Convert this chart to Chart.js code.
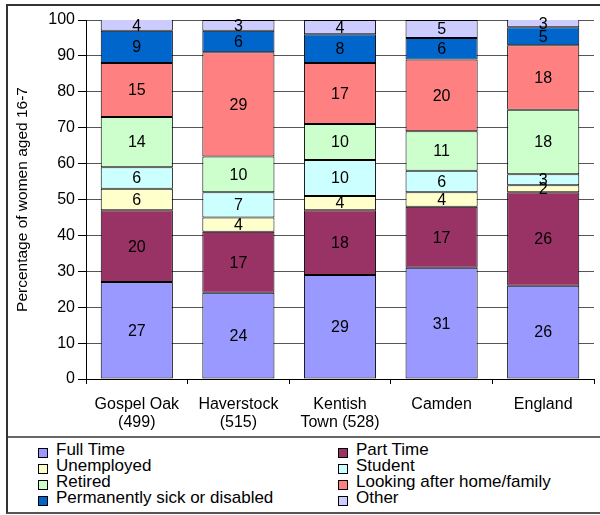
<!DOCTYPE html>
<html>
<head>
<meta charset="utf-8">
<script src="https://cdn.jsdelivr.net/npm/chart.js@4.4.1/dist/chart.umd.min.js"></script>
<style>
  html, body { margin: 0; padding: 0; background: #fff; width: 600px; height: 515px; overflow: hidden;
    font-family: "Liberation Sans", Arial, sans-serif; }
  #wrap { position: absolute; left: 0; top: 0; width: 600px; height: 436px; }
  #frame { position: absolute; left: 6px; top: 4px; width: 600px; height: 506px;
    border-top: 2px solid #333; border-left: 2px solid #333; border-bottom: 2px solid #555; pointer-events: none; }
  #sep { position: absolute; left: 6px; top: 436px; width: 600px; height: 0; border-top: 2px solid #666; }
  .box { position: absolute; width: 8px; height: 8px; border: 1px solid #000; }
  .lbl { position: absolute; font-size: 17px; line-height: 16px; height: 16px; white-space: nowrap; color: #000; }
</style>
</head>
<body>
<div id="wrap"><canvas id="chart" width="600" height="436"></canvas></div>
<div id="sep"></div>
<div id="legend"></div>
<div id="frame"></div>
<script>
// Categories (areas, with sample sizes)
const categories = [["Gospel Oak", "(499)"], ["Haverstock", "(515)"], ["Kentish", "Town (528)"], "Camden", "England"];

// Economic activity of women aged 16-74, percent
const fullTime      = [27, 24, 29, 31, 26];
const partTime      = [20, 17, 18, 17, 26];
const unemployed    = [6, 4, 4, 4, 2];
const student       = [6, 7, 10, 6, 3];
const retired       = [14, 10, 10, 11, 18];
const lookingAfter  = [15, 29, 17, 20, 18];
const sickDisabled  = [9, 6, 8, 6, 5];
const other         = [4, 3, 4, 5, 3];

const seriesNames = ["Full Time", "Part Time", "Unemployed", "Student", "Retired",
  "Looking after home/family", "Permanently sick or disabled", "Other"];
const seriesValues = [fullTime, partTime, unemployed, student, retired, lookingAfter, sickDisabled, other];
const seriesColors = ["#9999FF", "#993366", "#FFFFCC", "#CCFFFF", "#CCFFCC", "#FF8080", "#0066CC", "#CCCCFF"];

const yTicks = { min: 0, max: 100, step: 10 };

const FONT = "'Liberation Sans', Arial, sans-serif";

// Writes each segment's value in the middle of its visible part
const segmentLabels = {
  id: "segmentLabels",
  afterDatasetsDraw(chart) {
    const ctx = chart.ctx;
    const area = chart.chartArea;
    ctx.save();
    ctx.font = "16px " + FONT;
    ctx.fillStyle = "#000";
    ctx.textAlign = "center";
    ctx.textBaseline = "middle";
    chart.data.datasets.forEach((ds, i) => {
      const meta = chart.getDatasetMeta(i);
      meta.data.forEach((bar, j) => {
        const top = Math.max(bar.y, area.top);
        const y = (top + bar.base) / 2;
        ctx.fillText(String(ds.data[j]), bar.x, y + 1);
      });
    });
    ctx.restore();
  }
};

const datasets = seriesNames.map((name, i) => ({
  label: name,
  data: seriesValues[i],
  backgroundColor: seriesColors[i],
  borderColor: "#000",
  borderWidth: 1,
  borderSkipped: false,
  barPercentage: 0.71,
  categoryPercentage: 1.0,
  clip: 0
}));

new Chart(document.getElementById("chart"), {
  type: "bar",
  data: { labels: categories, datasets },
  options: {
    responsive: false,
    animation: false,
    layout: { padding: { top: 20, right: 6, left: 0, bottom: 0 } },
    plugins: { legend: { display: false }, tooltip: { enabled: false } },
    scales: {
      x: {
        stacked: true,
        offset: true,
        grid: { offset: true, drawOnChartArea: false, drawTicks: true, tickLength: 5, tickColor: "#000" },
        border: { color: "#000", width: 1 },
        ticks: { color: "#000", font: { family: FONT, size: 16, lineHeight: 1.1 }, padding: 12, maxRotation: 0, autoSkip: false },
        afterFit(scale) { scale.height = 57; }
      },
      y: {
        stacked: true,
        min: yTicks.min,
        max: yTicks.max,
        grid: { color: "#555", lineWidth: 1, tickLength: 8, tickColor: "#000" },
        border: { color: "#000", width: 1 },
        ticks: { stepSize: yTicks.step, color: "#000", font: { family: FONT, size: 16 }, padding: 3 },
        title: { display: true, text: "Percentage of women aged 16-7", color: "#000",
          font: { family: FONT, size: 15.5 }, padding: { top: 13, bottom: 0 } },
        afterFit(scale) { scale.width = 86; }
      }
    }
  },
  plugins: [segmentLabels]
});

// Two-column legend below the chart
const legend = document.getElementById("legend");
seriesNames.forEach((name, i) => {
  const col = i % 2, row = Math.floor(i / 2);
  const cx = col === 0 ? 38 : 338;
  const cy = 452.5 + row * 16;
  const box = document.createElement("div");
  box.className = "box";
  box.style.left = cx + "px";
  box.style.top = (cy - 4.5) + "px";
  box.style.background = seriesColors[i];
  const lbl = document.createElement("div");
  lbl.className = "lbl";
  lbl.style.left = (cx + 18) + "px";
  lbl.style.top = (cy - 10.5) + "px";
  lbl.textContent = name;
  legend.appendChild(box);
  legend.appendChild(lbl);
});
</script>
</body>
</html>
